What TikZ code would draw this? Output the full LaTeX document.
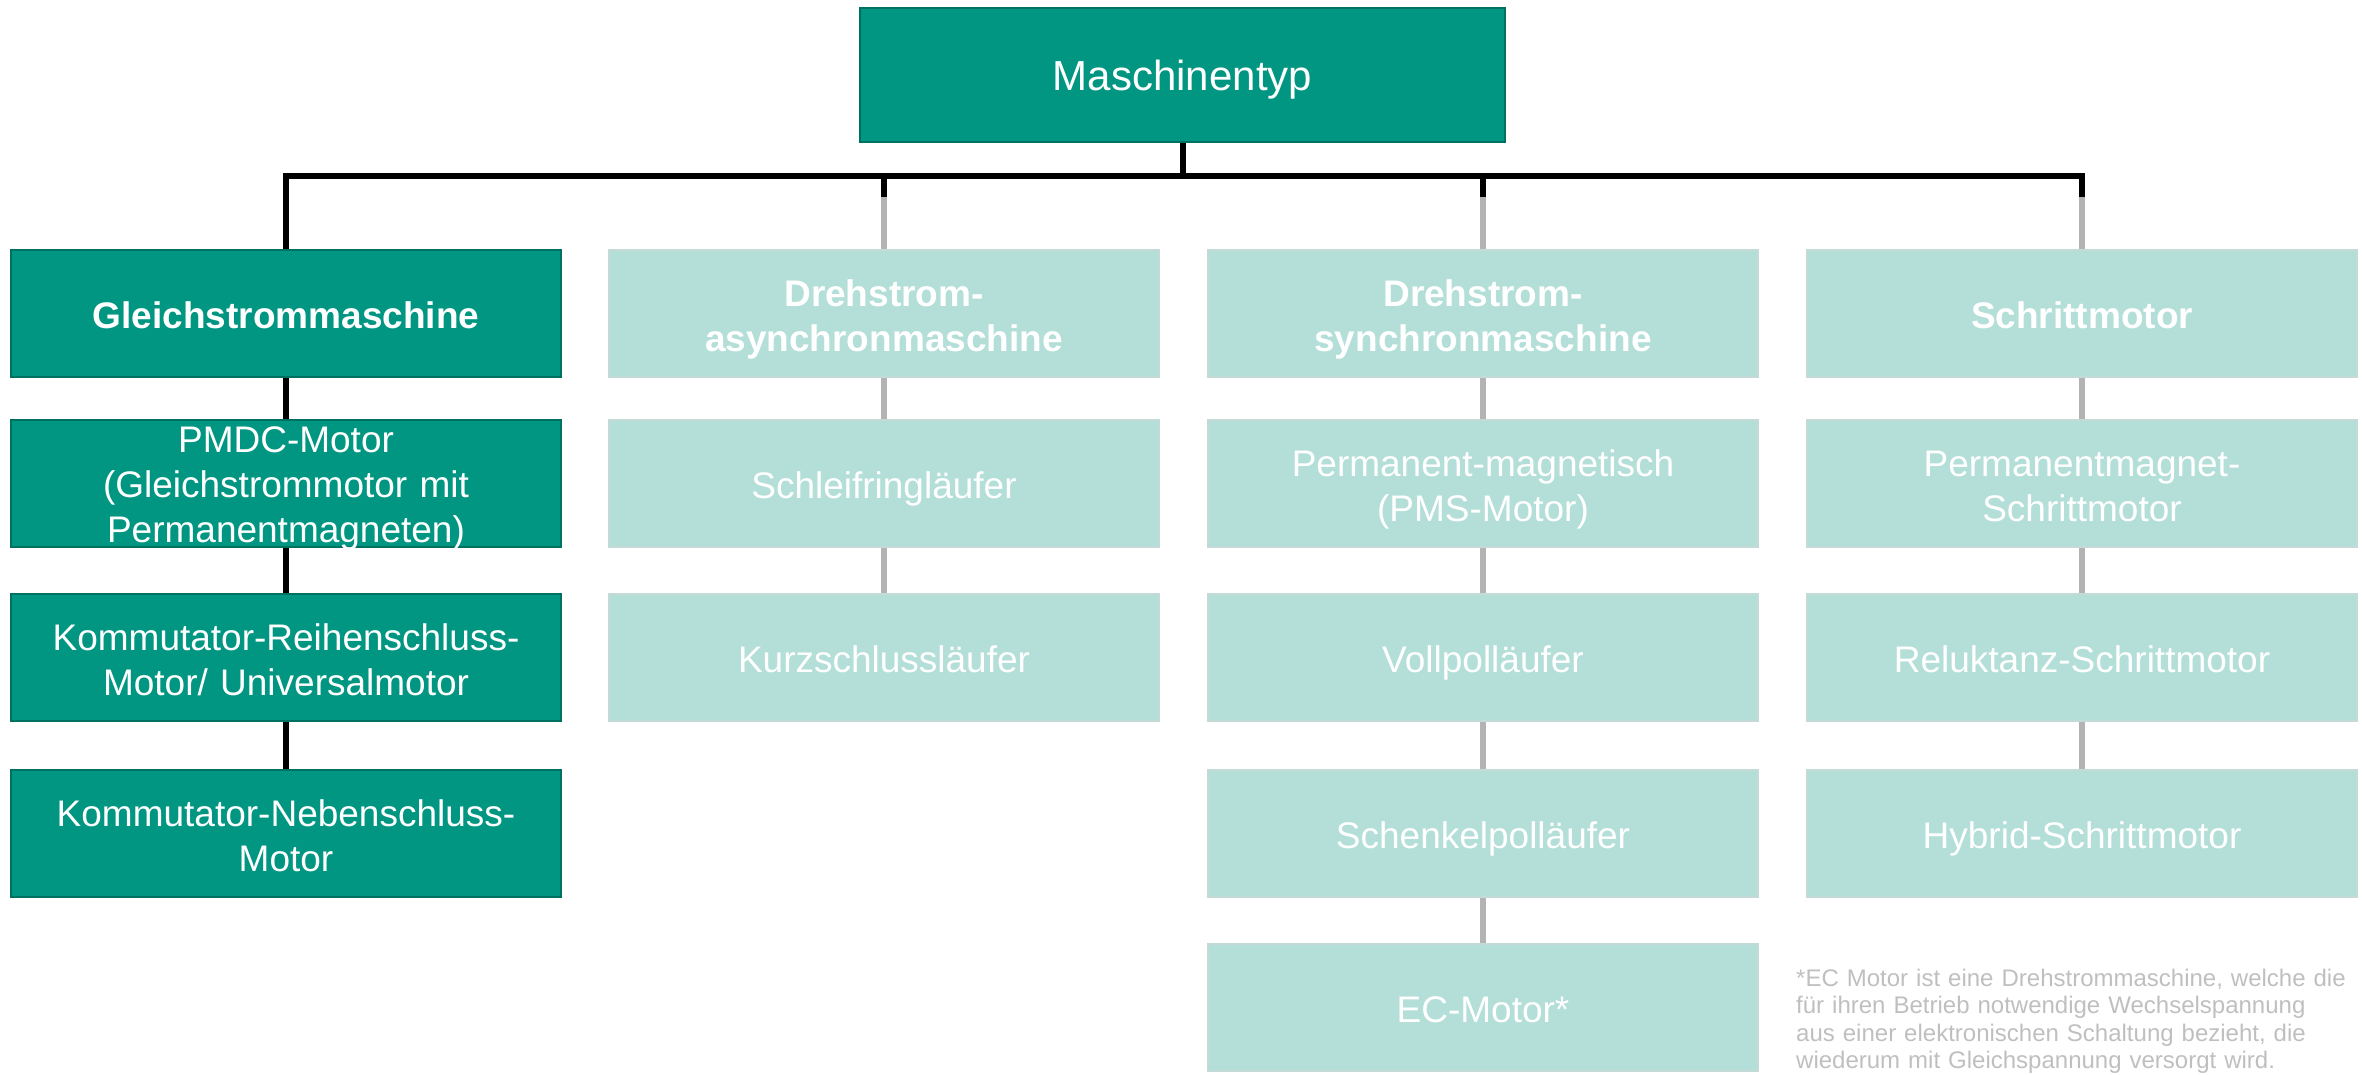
\documentclass[tikz,border=0pt]{standalone}
\usepackage{fontspec}
\setmainfont{Liberation Sans}
\definecolor{dteal}{RGB}{0,150,130}
\definecolor{dedge}{RGB}{0,112,96}
\definecolor{lteal}{RGB}{179,223,216}
\definecolor{ledge}{RGB}{196,218,214}
\definecolor{cgray}{RGB}{179,179,179}
\definecolor{ngray}{RGB}{191,191,191}
\begin{document}
\begin{tikzpicture}[x=1pt,y=-1pt,
  box/.style={rectangle, minimum width=550pt, minimum height=127pt, inner sep=0pt,
    text width=540pt, align=center, text height=30pt, text depth=0pt,
    font=\fontsize{37}{45}\selectfont, line width=2.5pt},
  ltwo/.style={text depth=45pt},
  lthree/.style={text depth=93pt},
  dbox/.style={box, fill=dteal, draw=dedge, text=white},
  lbox/.style={box, fill=lteal, draw=ledge, text=white},
  topbox/.style={rectangle, minimum width=645pt, minimum height=134pt, inner sep=0pt,
    text height=31.5pt, text depth=0pt,
    font=\fontsize{42}{50}\selectfont, fill=dteal, draw=dedge, text=white, line width=2.5pt},
  bk/.style={line width=6pt, black},
  gr/.style={line width=5.5pt, cgray},
  note/.style={anchor=north west, align=left, text width=565pt, inner sep=0pt, text=ngray,
    font=\fontsize{24}{27.3}\selectfont}]
\useasboundingbox (0,0) rectangle (2362,1074);

% top
\node[topbox] (top) at (1182.5,75) {Maschinentyp};

% column 1
\node[dbox] (c1) at (286,313.5) {\textbf{Gleichstrommaschine}};
\node[dbox, lthree] (a2) at (286,483.5) {PMDC-Motor\\(Gleichstrommotor mit\\Permanentmagneten)};
\node[dbox, ltwo] (a3) at (286,657.5) {Kommutator-Reihenschluss-\\Motor/ Universalmotor};
\node[dbox, ltwo] (a4) at (286,833.5) {Kommutator-Nebenschluss-\\Motor};

% column 2
\node[lbox, ltwo] (c2) at (884,313.5) {\textbf{Drehstrom-}\\\textbf{asynchronmaschine}};
\node[lbox] (b2) at (884,483.5) {Schleifringläufer};
\node[lbox] (b3) at (884,657.5) {Kurzschlussläufer};

% column 3
\node[lbox, ltwo] (c3) at (1483,313.5) {\textbf{Drehstrom-}\\\textbf{synchronmaschine}};
\node[lbox, ltwo] (d2) at (1483,483.5) {Permanent-magnetisch\\(PMS-Motor)};
\node[lbox] (d3) at (1483,657.5) {Vollpolläufer};
\node[lbox] (d4) at (1483,833.5) {Schenkelpolläufer};
\node[lbox] (d5) at (1483,1007.5) {EC-Motor*};

% column 4
\node[lbox] (c4) at (2082,313.5) {\textbf{Schrittmotor}};
\node[lbox, ltwo] (e2) at (2082,483.5) {Permanentmagnet-\\Schrittmotor};
\node[lbox] (e3) at (2082,657.5) {Reluktanz-Schrittmotor};
\node[lbox] (e4) at (2082,833.5) {Hybrid-Schrittmotor};

% footnote
\node[note] (fn) at (1796,969) {\rule{0pt}{17pt}*EC Motor ist eine Drehstrommaschine, welche die\\
für ihren Betrieb notwendige Wechselspannung\\
aus einer elektronischen Schaltung bezieht, die\\
wiederum mit Gleichspannung versorgt wird.};

% bus
\draw[bk] (top.south) -- ++(0,33) coordinate (bus);
\draw[bk, line join=miter] (c1.north) |- (c4.north |- bus) -- ++(0,21) coordinate (s4);
\draw[gr] (s4) -- (c4.north);
\draw[bk] (c2.north |- bus) -- ++(0,21) coordinate (s2);
\draw[gr] (s2) -- (c2.north);
\draw[bk] (c3.north |- bus) -- ++(0,21) coordinate (s3);
\draw[gr] (s3) -- (c3.north);

% column connectors
\draw[bk] (c1.south) -- (a2.north);
\draw[bk] (a2.south) -- (a3.north);
\draw[bk] (a3.south) -- (a4.north);
\draw[gr] (c2.south) -- (b2.north);
\draw[gr] (b2.south) -- (b3.north);
\draw[gr] (c3.south) -- (d2.north);
\draw[gr] (d2.south) -- (d3.north);
\draw[gr] (d3.south) -- (d4.north);
\draw[gr] (d4.south) -- (d5.north);
\draw[gr] (c4.south) -- (e2.north);
\draw[gr] (e2.south) -- (e3.north);
\draw[gr] (e3.south) -- (e4.north);
\end{tikzpicture}
\end{document}
